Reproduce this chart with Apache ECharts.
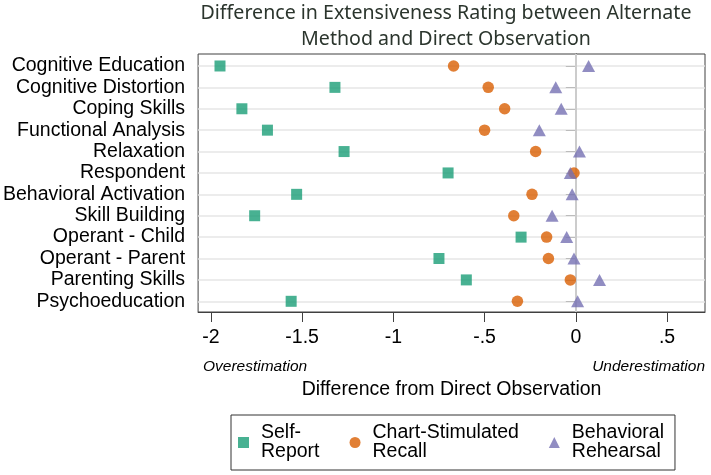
<!DOCTYPE html>
<html><head><meta charset="utf-8">
<script src="https://cdn.jsdelivr.net/npm/echarts@6/dist/echarts.min.js"></script>
<style>html,body{margin:0;padding:0;background:#fff}#c{width:711px;height:475px}</style>
</head><body><div id="c"></div>
<script>
const categories = ['Cognitive Education','Cognitive Distortion','Coping Skills','Functional Analysis','Relaxation','Respondent','Behavioral Activation','Skill Building','Operant - Child','Operant - Parent','Parenting Skills','Psychoeducation'];
const selfReport  = [-1.95,-1.32,-1.83,-1.69,-1.27,-0.70,-1.53,-1.76,-0.30,-0.75,-0.60,-1.56];
const chartRecall = [-0.67,-0.48,-0.39,-0.50,-0.22,-0.01,-0.24,-0.34,-0.16,-0.15,-0.03,-0.32];
const behavioral  = [0.07,-0.11,-0.08,-0.20,0.02,-0.03,-0.02,-0.13,-0.05,-0.01,0.13,0.01];
const xTicks = [-2,-1.5,-1,-0.5,0,0.5];
const seriesNames = ['Self-Report','Chart-Stimulated Recall','Behavioral Rehearsal'];
const legendLabels = ['Self-\nReport','Chart-Stimulated\nRecall','Behavioral\nRehearsal'];
const colors = ['#1a9e77','#d95f02','#7570b3'];

const rowPos = categories.map((c,i)=>i+1);
const toPts = arr => arr.map((v,i)=>[v, rowPos[i]]);
const FONT = 'Liberation Sans';

const chart = echarts.init(document.getElementById('c'), null, {renderer:'canvas'});
chart.setOption({
  animation:false,
  backgroundColor:'#fff',
  grid:{left:198, right:6, top:54, bottom:163, show:true, borderColor:'#404040', borderWidth:1, containLabel:false},
  xAxis:{
    type:'value', min:-2.07, max:0.708,
    axisLine:{show:true, lineStyle:{color:'#404040'}},
    axisTick:{show:true, length:10, lineStyle:{color:'#404040'}, customValues:xTicks},
    axisLabel:{customValues:xTicks, margin:16, fontSize:19.5, fontFamily:FONT, color:'#000',
      formatter:v=> v===0 ? '0' : String(v).replace('0.', '.')},
    splitLine:{show:false},
    name:'Difference from Direct Observation', nameLocation:'middle', nameGap:68,
    nameTextStyle:{fontSize:19.5, fontFamily:FONT, color:'#000'}
  },
  yAxis:{
    type:'value', inverse:true, min:0.44, max:12.5,
    axisLine:{show:true, lineStyle:{color:'#404040'}},
    axisTick:{show:true, length:10, lineStyle:{color:'#404040'}, customValues:rowPos},
    axisLabel:{customValues:rowPos, margin:13, fontSize:19.5, fontFamily:FONT, color:'#000',
      formatter:v=> categories[Math.round(v)-1] || ''},
    splitLine:{show:false}
  },
  legend:{
    left:231, top:415, orient:'horizontal',
    data:[{name:seriesNames[0], icon:'rect'},{name:seriesNames[1], icon:'circle'},{name:seriesNames[2], icon:'triangle'}],
    formatter:n=> legendLabels[seriesNames.indexOf(n)],
    itemWidth:11, itemHeight:11, itemGap:30,
    padding:[8,11,8,7],
    borderColor:'#333', borderWidth:1,
    textStyle:{fontSize:19.5, lineHeight:19, fontFamily:FONT, color:'#000', padding:[0,0,0,7]}
  },
  graphic:[
    {type:'text', x:446, y:13, style:{text:'Difference in Extensiveness Rating between Alternate', fontSize:19.6, fontFamily:'Noto Sans', fill:'#2b352d', textAlign:'center', textVerticalAlign:'middle'}},
    {type:'text', x:446, y:39, style:{text:'Method and Direct Observation', fontSize:19.6, fontFamily:'Noto Sans', fill:'#2b352d', textAlign:'center', textVerticalAlign:'middle'}},
    {type:'text', x:203, y:367, style:{text:'Overestimation', fontSize:15.5, fontStyle:'italic', fontFamily:FONT, fill:'#000', textAlign:'left', textVerticalAlign:'middle'}},
    {type:'text', x:705, y:367, style:{text:'Underestimation', fontSize:15.5, fontStyle:'italic', fontFamily:FONT, fill:'#000', textAlign:'right', textVerticalAlign:'middle'}}
  ],
  series:[
    {type:'line', data:[], z:1, silent:true,
     markLine:{silent:true, symbol:['none','none'], label:{show:false}, animation:false,
       data: rowPos.map(p=>({yAxis:p, lineStyle:{color:'#e6e6e6', width:1.5, type:'solid'}}))
         .concat([{xAxis:0, lineStyle:{color:'#cccccc', width:2, type:'solid'}}])}},
    {name:seriesNames[0], type:'scatter', z:5, symbol:'rect', symbolSize:11, itemStyle:{color:colors[0]}, data:toPts(selfReport)},
    {name:seriesNames[1], type:'scatter', z:5, symbol:'circle', symbolSize:11.5, itemStyle:{color:colors[1]}, data:toPts(chartRecall)},
    {name:seriesNames[2], type:'scatter', z:5, symbol:'triangle', symbolSize:[13,12], itemStyle:{color:colors[2]}, data:toPts(behavioral)}
  ]
});
</script></body></html>
